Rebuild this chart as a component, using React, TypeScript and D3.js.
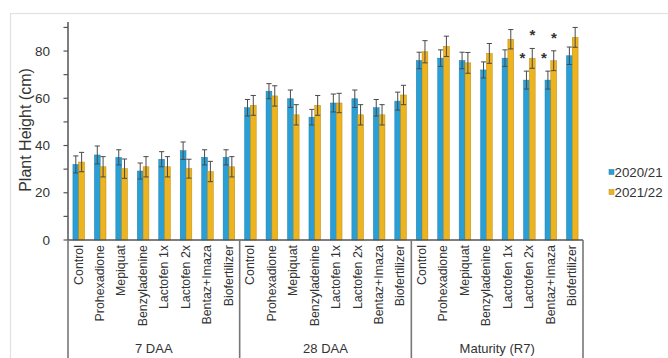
import React from "react";
import * as d3 from "d3";

// Treatments repeated in every growth stage
const treatments = [
  "Control",
  "Prohexadione",
  "Mepiquat",
  "Benzyladenine",
  "Lactofen 1x",
  "Lactofen 2x",
  "Bentaz+Imaza",
  "Biofertilizer",
];
const stages = ["7 DAA", "28 DAA", "Maturity (R7)"];
const seasons = ["2020/21", "2021/22"];

// Mean plant height (cm), stage by stage
const height2021 = [
  32, 36, 35, 29.2, 34.2, 37.8, 35, 35,
  56, 63, 59.8, 52, 58, 59.8, 56, 58.8,
  76, 77, 76, 72, 77, 67.7, 67.7, 78,
];
const height2122 = [
  33, 31, 30.2, 31, 31, 30.2, 29, 31,
  57, 61, 53, 57, 58, 53, 53, 61.4,
  79.7, 82, 75, 79, 85, 76.9, 75.9, 85.8,
];
// Error (± cm)
const err2021 = [
  3.6, 3.8, 3.2, 3.4, 3.2, 3.7, 3.2, 3.2,
  3.5, 3.2, 3.7, 3.3, 3.8, 3.7, 3.5, 3.8,
  3.5, 3.5, 3.5, 3.4, 3.5, 3.8, 3.8, 3.7,
];
const err2122 = [
  4.1, 4.3, 4.1, 4.3, 4.3, 4.0, 4.3, 4.3,
  4.2, 4.3, 4.3, 4.2, 4.1, 4.3, 4.3, 4.1,
  4.7, 4.3, 4.4, 4.2, 4.1, 4.2, 4.2, 4.2,
];
// Significance marks: [category index, season index]
const starred: [number, number][] = [
  [21, 0],
  [21, 1],
  [22, 0],
  [22, 1],
];

const yTicks = [0, 20, 40, 60, 80];
const yMinor = [10, 30, 50, 70, 90];

const W = 668;
const H = 358;
const left = 68;
const right = 583;
const base = 240;
const top = 22;

const colors = ["#2a9fd6", "#edb41f"];
const strokes = ["#1f7ca8", "#b98a12"];

export default function App() {
  const cats = stages.flatMap((s) => treatments.map((t) => `${s}|${t}`));
  const x = d3.scaleBand<string>().domain(cats).range([left, right]).padding(0);
  const y = d3.scaleLinear().domain([0, 92.3]).range([base, top]);
  const series = [height2021, height2122];
  const errs = [err2021, err2122];
  const barW = 5.8;
  const bw = x.bandwidth();
  const groupW = bw * treatments.length;

  return (
    <svg
      width={W}
      height={H}
      style={{ position: "absolute", left: 0, top: 0, background: "#fff" }}
      fontFamily="Liberation Sans, Arial, sans-serif"
    >
      <rect x={10.5} y={13.5} width={700} height={400} fill="none" stroke="#e2e2e2" strokeWidth={1.2} />

      {/* bars with error bars */}
      {cats.map((c, i) => {
        const cx = (x(c) as number) + bw / 2;
        return (
          <g key={c}>
            {series.map((vals, s) => {
              const bx = cx - barW + s * barW;
              const v = vals[i];
              const e = errs[s][i];
              const mx = bx + barW / 2;
              return (
                <g key={s}>
                  <rect
                    x={bx}
                    y={y(v)}
                    width={barW}
                    height={base - y(v)}
                    fill={colors[s]}
                    stroke={strokes[s]}
                    strokeWidth={0.5}
                  />
                  <g stroke="#4a4a4a" strokeWidth={1}>
                    <line x1={mx} x2={mx} y1={y(v - e)} y2={y(v + e)} />
                    <line x1={mx - 2.6} x2={mx + 2.6} y1={y(v + e)} y2={y(v + e)} />
                    <line x1={mx - 2.6} x2={mx + 2.6} y1={y(v - e)} y2={y(v - e)} />
                  </g>
                </g>
              );
            })}
          </g>
        );
      })}

      {/* significance asterisks */}
      {starred.map(([i, s]) => {
        const cx = (x(cats[i]) as number) + bw / 2;
        const v = series[s][i] + errs[s][i];
        const sx = s === 0 ? cx - 7 : cx + 3;
        return (
          <text
            key={`${i}-${s}`}
            x={sx}
            y={y(v) - 8}
            fontSize={15}
            fontWeight="bold"
            textAnchor="middle"
            fill="#333"
          >
            *
          </text>
        );
      })}

      {/* y axis */}
      <line x1={left} x2={left} y1={top} y2={base} stroke="#555" strokeWidth={1.5} />
      {yTicks.concat(yMinor).map((t) => (
        <line key={`t${t}`} x1={left - 4.5} x2={left} y1={y(t)} y2={y(t)} stroke="#555" strokeWidth={1.2} />
      ))}
      {yTicks.map((t) => (
        <text key={t} x={50} y={y(t)} dy="0.35em" textAnchor="end" fontSize={13.5} fill="#333">
          {t}
        </text>
      ))}
      <text
        transform={`translate(25,130) rotate(-90)`}
        textAnchor="middle"
        dy="0.35em"
        fontSize={16}
        fill="#333"
      >
        Plant Height (cm)
      </text>

      {/* x axis baseline and group separators */}
      <line x1={left} x2={right} y1={base} y2={base} stroke="#555" strokeWidth={1.5} />
      {stages.map((s, g) => {
        const gx = left + g * groupW;
        return (
          <g key={s}>
            <line x1={gx} x2={gx} y1={base} y2={H} stroke="#777" strokeWidth={1.6} />
            <text x={gx + groupW / 2} y={348} dy="0.35em" textAnchor="middle" fontSize={13} fill="#333">
              {s}
            </text>
          </g>
        );
      })}
      <line x1={right} x2={right} y1={base} y2={H} stroke="#777" strokeWidth={1.6} />

      {/* category labels */}
      {cats.map((c) => {
        const cx = (x(c) as number) + bw / 2 - 0.5;
        return (
          <text
            key={`l${c}`}
            transform={`translate(${cx},245) rotate(-90)`}
            textAnchor="end"
            dy="0.35em"
            fontSize={12.4}
            fill="#333"
          >
            {c.split("|")[1]}
          </text>
        );
      })}

      {/* legend */}
      {seasons.map((s, k) => (
        <g key={s} transform={`translate(609,${172 + k * 20})`}>
          <rect x={0} y={-2.5} width={5} height={5} fill={colors[k]} stroke={strokes[k]} strokeWidth={0.5} />
          <text x={5.5} y={0} dy="0.35em" fontSize={13.3} fill="#333">
            {s}
          </text>
        </g>
      ))}
    </svg>
  );
}
